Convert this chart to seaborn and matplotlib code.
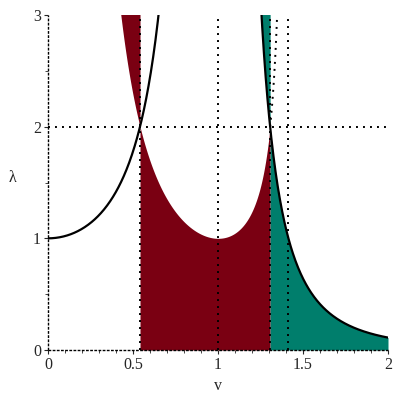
import numpy as np
import matplotlib
matplotlib.use("Agg")
import matplotlib.pyplot as plt
import seaborn as sns
from matplotlib.ticker import MultipleLocator

sns.set_style("white")
plt.rcParams['font.family'] = ['Liberation Serif', 'DejaVu Serif']

# curves: black  lam = 1/(1-v^2)^2 ,  boundary  lam = 1/(v^2 (2-v^2))
def black_curve(v):
    return 1.0 / (1.0 - v**2) ** 2

def bound_curve(v):
    return 1.0 / (v**2 * (2.0 - v**2))

v_lo = np.sqrt(1 - 1 / np.sqrt(2))   # ~0.541, where both curves hit lam = 2
v_hi = np.sqrt(1 + 1 / np.sqrt(2))   # ~1.307
v_mid = 1.0
v_sq2 = np.sqrt(2)                    # ~1.414
lam_line = 2.0
vlines = [v_lo, v_mid, v_hi, v_sq2]
xticks = [0, 0.5, 1, 1.5, 2]
xtick_labels = ['0', '0.5', '1', '1.5', '2']
yticks = [0, 1, 2, 3]

red = '#7a0012'
teal = '#007e6c'
dot = (0, (1, 2.6))
axis_dash = (0, (2, 1))

fig = plt.figure(figsize=(4, 4), dpi=100)
ax = fig.add_axes([0.12, 0.125, 0.85, 0.8375])

# red region
v1 = np.linspace(0.40, v_lo, 200)
ax.fill_between(v1, np.minimum(bound_curve(v1), 3.2), 3.2, color=red, lw=0, zorder=1)
v2 = np.linspace(v_lo, v_hi, 400)
ax.fill_between(v2, 0, bound_curve(v2), color=red, lw=0, zorder=1)

# teal region
v3 = np.linspace(1.24, v_hi, 200)
ax.fill_between(v3, np.minimum(black_curve(v3), 3.2), 3.2, color=teal, lw=0, zorder=1)
v4 = np.linspace(v_hi, 2, 400)
ax.fill_between(v4, 0, black_curve(v4), color=teal, lw=0, zorder=1)

# dotted boundary piece right of v_hi
v5 = np.linspace(v_hi, 1.36, 60)
ax.plot(v5, bound_curve(v5), color='black', lw=1.4, ls=dot, zorder=3)

# black curves
va = np.linspace(0, 0.68, 300)
sns.lineplot(x=va, y=black_curve(va), color='black', lw=1.6, ax=ax, zorder=4)
vb = np.linspace(1.24, 2, 300)
sns.lineplot(x=vb, y=black_curve(vb), color='black', lw=1.6, ax=ax, zorder=4)

# dotted guides
for xv in vlines:
    ax.axvline(xv, color='black', lw=1.4, ls=dot, zorder=3)
ax.axhline(lam_line, color='black', lw=1.4, ls=dot, zorder=3)

# axes drawn as fine dashed lines
ax.axhline(0, color='black', lw=1.0, ls=axis_dash, zorder=5, clip_on=False)
ax.axvline(0, color='black', lw=1.0, ls=axis_dash, zorder=5, clip_on=False)

for s in ax.spines.values():
    s.set_visible(False)

ax.set_xlim(0, 2)
ax.set_ylim(0, 3)
ax.set_xticks(xticks)
ax.set_xticklabels(xtick_labels)
ax.set_yticks(yticks)
ax.xaxis.set_minor_locator(MultipleLocator(0.1))
ax.yaxis.set_minor_locator(MultipleLocator(0.5))
ax.tick_params(which='major', direction='out', length=3, width=0.8, labelsize=11.5, pad=2,
               bottom=True, left=True)
ax.tick_params(which='minor', direction='out', length=2, width=0.6, bottom=True, left=True)

ax.set_xlabel('v', fontsize=11.5)
ax.set_ylabel('λ', fontsize=11.5, rotation=0)
ax.xaxis.set_label_coords(0.5, -0.085)
ax.yaxis.set_label_coords(-0.105, 0.49)

fig.savefig('out.png', dpi=100)
